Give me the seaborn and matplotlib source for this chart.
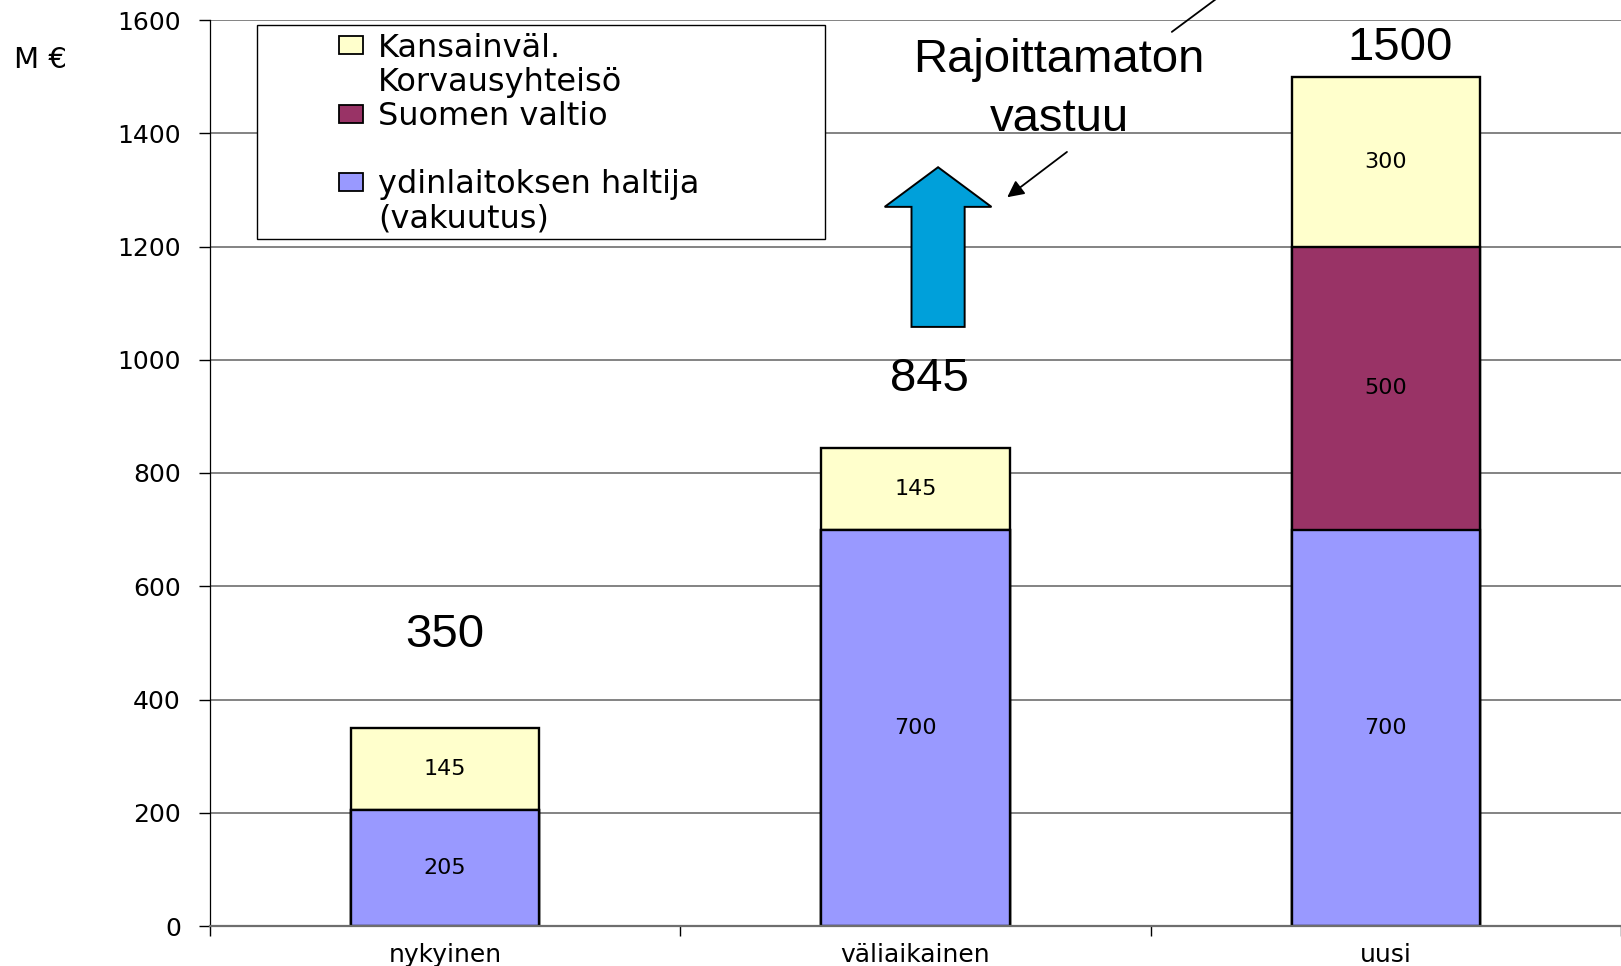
import matplotlib
matplotlib.use('Agg')
import matplotlib.pyplot as plt
from matplotlib.patches import FancyArrow, Patch, Rectangle
import seaborn as sns

categories = ['nykyinen', 'väliaikainen', 'uusi']
haltija = [205, 700, 700]
valtio = [0, 0, 500]
kansainval = [145, 145, 300]
totals = [350, 845, 1500]

yellow = '#FFFFCC'
maroon = '#993366'
blue = '#9999FF'

sns.set_style('white')
plt.rcParams['font.family'] = ['DejaVu Sans']
plt.rcParams['text.color'] = 'black'
plt.rcParams['xtick.color'] = 'black'
plt.rcParams['ytick.color'] = 'black'

fig = plt.figure(figsize=(16.21, 9.66), dpi=100)
ax = fig.add_axes([210 / 1621, 40 / 966, 1411 / 1621, 906 / 966])

# stacked bars: draw cumulative tops, tallest first
mid_tops = [h + v for h, v in zip(haltija, valtio)]
for tops, col in [(totals, yellow), (mid_tops, maroon), (haltija, blue)]:
    sns.barplot(x=categories, y=tops, order=categories, color=col, saturation=1,
                width=0.4, edgecolor='black', linewidth=1.7, ax=ax, zorder=2)

# values inside the segments
for i in range(len(categories)):
    segs = [(0, haltija[i]), (haltija[i], valtio[i]), (haltija[i] + valtio[i], kansainval[i])]
    for base, val in segs:
        if val > 0:
            ax.text(i, base + val / 2, f'{val}', ha='center', va='center', fontsize=16, zorder=5)

ax.set_xlim(-0.5, 2.5)
ax.set_ylim(0, 1600)
ax.set_yticks(range(0, 1601, 200))
ax.set_xlabel('')
ax.set_ylabel('')
ax.yaxis.grid(True, color='#6e6e6e', lw=1.2)
ax.set_axisbelow(True)
sns.despine(ax=ax, top=True, right=True)
ax.spines['left'].set_color('black')
ax.spines['left'].set_linewidth(0.9)
ax.spines['bottom'].set_color('#6e6e6e')
ax.spines['bottom'].set_linewidth(1.6)

ax.tick_params(axis='y', direction='out', length=8, width=1, color='black', pad=13, labelsize=18, left=True)
ax.tick_params(axis='x', which='major', length=0, pad=12, labelsize=18)
ax.set_xticks([-0.5, 0.5, 1.5, 2.5], minor=True)
ax.tick_params(axis='x', which='minor', direction='out', length=7, width=1, color='black', bottom=True)

# legend box
ax.add_patch(Rectangle((0.0333, 0.7583), 0.4026, 0.2362, transform=ax.transAxes,
                       facecolor='white', edgecolor='black', lw=1.0, zorder=3))
blank = Patch(facecolor='none', edgecolor='none')
handles = [Patch(facecolor=yellow, edgecolor='black', lw=1.3), blank,
           Patch(facecolor=maroon, edgecolor='black', lw=1.3), blank,
           Patch(facecolor=blue, edgecolor='black', lw=1.3), blank]
labels = ['Kansainväl.', 'Korvausyhteisö', 'Suomen valtio', ' ', 'ydinlaitoksen haltija', '(vakuutus)']
leg = ax.legend(handles, labels, loc='upper left', bbox_to_anchor=(0.0914, 0.986),
                frameon=False, fontsize=23, labelspacing=0.1, borderpad=0, borderaxespad=0,
                handlelength=0.75, handleheight=0.48, handletextpad=0.48)
leg.set_zorder(4)

# big total labels
big = dict(fontsize=34, family='Liberation Sans', ha='center', va='baseline', zorder=5)
ax.text(0.0, 493, f'{totals[0]}', **big)
ax.text(1.03, 945, f'{totals[1]}', **big)
ax.text(2.03, 1529, f'{totals[2]}', **big)
ax.text(1.305, 1508, 'Rajoittamaton', **big)
ax.text(1.305, 1404, 'vastuu', **big)

# blue block arrow
ax.add_patch(FancyArrow(1.048, 1058, 0, 282, width=0.113, head_width=0.227, head_length=70,
                        length_includes_head=True, facecolor='#00A0DA', edgecolor='black',
                        lw=1.4, zorder=4))

ax.annotate('', xy=(1.195, 1287), xytext=(1.322, 1367),
            arrowprops=dict(arrowstyle='-|>', color='black', lw=1.3, mutation_scale=25,
                            shrinkA=0, shrinkB=0))
ax.annotate('', xy=(1.728, 1692), xytext=(1.545, 1579), annotation_clip=False,
            arrowprops=dict(arrowstyle='-', color='black', lw=1.3, shrinkA=0, shrinkB=0))

fig.text(40 / 1621, 1 - 60 / 966, 'M €', ha='center', va='center', fontsize=21)

fig.savefig('out.png', dpi=100)
